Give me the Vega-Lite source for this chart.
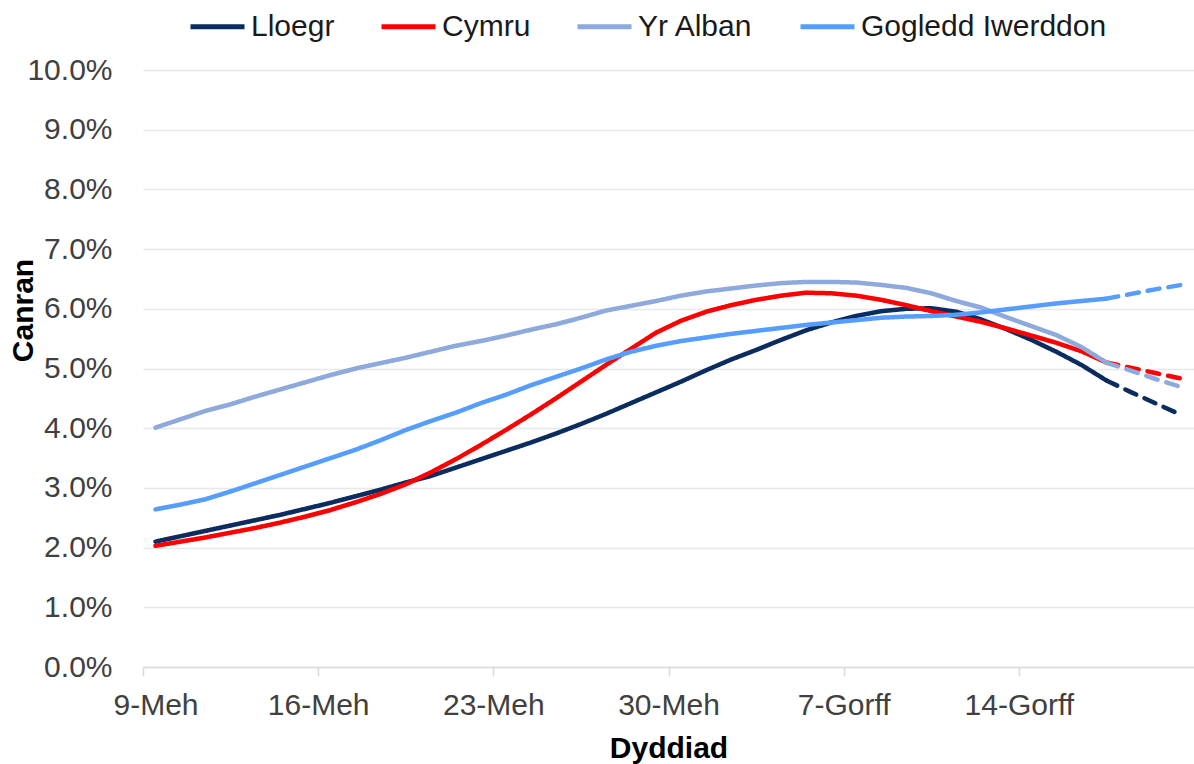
{
  "$schema": "https://vega.github.io/schema/vega-lite/v6.json",
  "width": 1051,
  "height": 597,
  "autosize": {"type": "none"},
  "padding": {"left": 143, "top": 70, "right": 0, "bottom": 97},
  "background": "white",
  "config": {"font": "Liberation Sans", "view": {"stroke": null}},
  "datasets": {
    "series": [
      {"date": "2022-06-09T12:00Z", "region": "Lloegr", "pct": 2.10, "type": "Actual"},
      {"date": "2022-06-10T12:00Z", "region": "Lloegr", "pct": 2.19, "type": "Actual"},
      {"date": "2022-06-11T12:00Z", "region": "Lloegr", "pct": 2.28, "type": "Actual"},
      {"date": "2022-06-12T12:00Z", "region": "Lloegr", "pct": 2.37, "type": "Actual"},
      {"date": "2022-06-13T12:00Z", "region": "Lloegr", "pct": 2.46, "type": "Actual"},
      {"date": "2022-06-14T12:00Z", "region": "Lloegr", "pct": 2.55, "type": "Actual"},
      {"date": "2022-06-15T12:00Z", "region": "Lloegr", "pct": 2.65, "type": "Actual"},
      {"date": "2022-06-16T12:00Z", "region": "Lloegr", "pct": 2.75, "type": "Actual"},
      {"date": "2022-06-17T12:00Z", "region": "Lloegr", "pct": 2.86, "type": "Actual"},
      {"date": "2022-06-18T12:00Z", "region": "Lloegr", "pct": 2.97, "type": "Actual"},
      {"date": "2022-06-19T12:00Z", "region": "Lloegr", "pct": 3.09, "type": "Actual"},
      {"date": "2022-06-20T12:00Z", "region": "Lloegr", "pct": 3.20, "type": "Actual"},
      {"date": "2022-06-21T12:00Z", "region": "Lloegr", "pct": 3.34, "type": "Actual"},
      {"date": "2022-06-22T12:00Z", "region": "Lloegr", "pct": 3.48, "type": "Actual"},
      {"date": "2022-06-23T12:00Z", "region": "Lloegr", "pct": 3.62, "type": "Actual"},
      {"date": "2022-06-24T12:00Z", "region": "Lloegr", "pct": 3.76, "type": "Actual"},
      {"date": "2022-06-25T12:00Z", "region": "Lloegr", "pct": 3.91, "type": "Actual"},
      {"date": "2022-06-26T12:00Z", "region": "Lloegr", "pct": 4.07, "type": "Actual"},
      {"date": "2022-06-27T12:00Z", "region": "Lloegr", "pct": 4.24, "type": "Actual"},
      {"date": "2022-06-28T12:00Z", "region": "Lloegr", "pct": 4.42, "type": "Actual"},
      {"date": "2022-06-29T12:00Z", "region": "Lloegr", "pct": 4.60, "type": "Actual"},
      {"date": "2022-06-30T12:00Z", "region": "Lloegr", "pct": 4.78, "type": "Actual"},
      {"date": "2022-07-01T12:00Z", "region": "Lloegr", "pct": 4.97, "type": "Actual"},
      {"date": "2022-07-02T12:00Z", "region": "Lloegr", "pct": 5.15, "type": "Actual"},
      {"date": "2022-07-03T12:00Z", "region": "Lloegr", "pct": 5.31, "type": "Actual"},
      {"date": "2022-07-04T12:00Z", "region": "Lloegr", "pct": 5.48, "type": "Actual"},
      {"date": "2022-07-05T12:00Z", "region": "Lloegr", "pct": 5.64, "type": "Actual"},
      {"date": "2022-07-06T12:00Z", "region": "Lloegr", "pct": 5.77, "type": "Actual"},
      {"date": "2022-07-07T12:00Z", "region": "Lloegr", "pct": 5.88, "type": "Actual"},
      {"date": "2022-07-08T12:00Z", "region": "Lloegr", "pct": 5.96, "type": "Actual"},
      {"date": "2022-07-09T12:00Z", "region": "Lloegr", "pct": 6.00, "type": "Actual"},
      {"date": "2022-07-10T12:00Z", "region": "Lloegr", "pct": 6.01, "type": "Actual"},
      {"date": "2022-07-11T12:00Z", "region": "Lloegr", "pct": 5.95, "type": "Actual"},
      {"date": "2022-07-12T12:00Z", "region": "Lloegr", "pct": 5.82, "type": "Actual"},
      {"date": "2022-07-13T12:00Z", "region": "Lloegr", "pct": 5.66, "type": "Actual"},
      {"date": "2022-07-14T12:00Z", "region": "Lloegr", "pct": 5.48, "type": "Actual"},
      {"date": "2022-07-15T12:00Z", "region": "Lloegr", "pct": 5.28, "type": "Actual"},
      {"date": "2022-07-16T12:00Z", "region": "Lloegr", "pct": 5.06, "type": "Actual"},
      {"date": "2022-07-17T12:00Z", "region": "Lloegr", "pct": 4.80, "type": "Actual"},
      {"date": "2022-07-17T12:00Z", "region": "Lloegr", "pct": 4.80, "type": "Projected"},
      {"date": "2022-07-18T12:00Z", "region": "Lloegr", "pct": 4.60, "type": "Projected"},
      {"date": "2022-07-19T12:00Z", "region": "Lloegr", "pct": 4.41, "type": "Projected"},
      {"date": "2022-07-20T12:00Z", "region": "Lloegr", "pct": 4.22, "type": "Projected"},

      {"date": "2022-06-09T12:00Z", "region": "Cymru", "pct": 2.03, "type": "Actual"},
      {"date": "2022-06-10T12:00Z", "region": "Cymru", "pct": 2.10, "type": "Actual"},
      {"date": "2022-06-11T12:00Z", "region": "Cymru", "pct": 2.17, "type": "Actual"},
      {"date": "2022-06-12T12:00Z", "region": "Cymru", "pct": 2.25, "type": "Actual"},
      {"date": "2022-06-13T12:00Z", "region": "Cymru", "pct": 2.33, "type": "Actual"},
      {"date": "2022-06-14T12:00Z", "region": "Cymru", "pct": 2.42, "type": "Actual"},
      {"date": "2022-06-15T12:00Z", "region": "Cymru", "pct": 2.52, "type": "Actual"},
      {"date": "2022-06-16T12:00Z", "region": "Cymru", "pct": 2.63, "type": "Actual"},
      {"date": "2022-06-17T12:00Z", "region": "Cymru", "pct": 2.76, "type": "Actual"},
      {"date": "2022-06-18T12:00Z", "region": "Cymru", "pct": 2.90, "type": "Actual"},
      {"date": "2022-06-19T12:00Z", "region": "Cymru", "pct": 3.06, "type": "Actual"},
      {"date": "2022-06-20T12:00Z", "region": "Cymru", "pct": 3.26, "type": "Actual"},
      {"date": "2022-06-21T12:00Z", "region": "Cymru", "pct": 3.48, "type": "Actual"},
      {"date": "2022-06-22T12:00Z", "region": "Cymru", "pct": 3.72, "type": "Actual"},
      {"date": "2022-06-23T12:00Z", "region": "Cymru", "pct": 3.97, "type": "Actual"},
      {"date": "2022-06-24T12:00Z", "region": "Cymru", "pct": 4.23, "type": "Actual"},
      {"date": "2022-06-25T12:00Z", "region": "Cymru", "pct": 4.50, "type": "Actual"},
      {"date": "2022-06-26T12:00Z", "region": "Cymru", "pct": 4.78, "type": "Actual"},
      {"date": "2022-06-27T12:00Z", "region": "Cymru", "pct": 5.06, "type": "Actual"},
      {"date": "2022-06-28T12:00Z", "region": "Cymru", "pct": 5.33, "type": "Actual"},
      {"date": "2022-06-29T12:00Z", "region": "Cymru", "pct": 5.60, "type": "Actual"},
      {"date": "2022-06-30T12:00Z", "region": "Cymru", "pct": 5.80, "type": "Actual"},
      {"date": "2022-07-01T12:00Z", "region": "Cymru", "pct": 5.95, "type": "Actual"},
      {"date": "2022-07-02T12:00Z", "region": "Cymru", "pct": 6.06, "type": "Actual"},
      {"date": "2022-07-03T12:00Z", "region": "Cymru", "pct": 6.15, "type": "Actual"},
      {"date": "2022-07-04T12:00Z", "region": "Cymru", "pct": 6.22, "type": "Actual"},
      {"date": "2022-07-05T12:00Z", "region": "Cymru", "pct": 6.27, "type": "Actual"},
      {"date": "2022-07-06T12:00Z", "region": "Cymru", "pct": 6.26, "type": "Actual"},
      {"date": "2022-07-07T12:00Z", "region": "Cymru", "pct": 6.22, "type": "Actual"},
      {"date": "2022-07-08T12:00Z", "region": "Cymru", "pct": 6.15, "type": "Actual"},
      {"date": "2022-07-09T12:00Z", "region": "Cymru", "pct": 6.06, "type": "Actual"},
      {"date": "2022-07-10T12:00Z", "region": "Cymru", "pct": 5.96, "type": "Actual"},
      {"date": "2022-07-11T12:00Z", "region": "Cymru", "pct": 5.87, "type": "Actual"},
      {"date": "2022-07-12T12:00Z", "region": "Cymru", "pct": 5.78, "type": "Actual"},
      {"date": "2022-07-13T12:00Z", "region": "Cymru", "pct": 5.67, "type": "Actual"},
      {"date": "2022-07-14T12:00Z", "region": "Cymru", "pct": 5.55, "type": "Actual"},
      {"date": "2022-07-15T12:00Z", "region": "Cymru", "pct": 5.43, "type": "Actual"},
      {"date": "2022-07-16T12:00Z", "region": "Cymru", "pct": 5.29, "type": "Actual"},
      {"date": "2022-07-17T12:00Z", "region": "Cymru", "pct": 5.10, "type": "Actual"},
      {"date": "2022-07-17T12:00Z", "region": "Cymru", "pct": 5.10, "type": "Projected"},
      {"date": "2022-07-18T12:00Z", "region": "Cymru", "pct": 5.01, "type": "Projected"},
      {"date": "2022-07-19T12:00Z", "region": "Cymru", "pct": 4.92, "type": "Projected"},
      {"date": "2022-07-20T12:00Z", "region": "Cymru", "pct": 4.83, "type": "Projected"},

      {"date": "2022-06-09T12:00Z", "region": "Yr Alban", "pct": 4.01, "type": "Actual"},
      {"date": "2022-06-10T12:00Z", "region": "Yr Alban", "pct": 4.15, "type": "Actual"},
      {"date": "2022-06-11T12:00Z", "region": "Yr Alban", "pct": 4.29, "type": "Actual"},
      {"date": "2022-06-12T12:00Z", "region": "Yr Alban", "pct": 4.40, "type": "Actual"},
      {"date": "2022-06-13T12:00Z", "region": "Yr Alban", "pct": 4.53, "type": "Actual"},
      {"date": "2022-06-14T12:00Z", "region": "Yr Alban", "pct": 4.65, "type": "Actual"},
      {"date": "2022-06-15T12:00Z", "region": "Yr Alban", "pct": 4.77, "type": "Actual"},
      {"date": "2022-06-16T12:00Z", "region": "Yr Alban", "pct": 4.89, "type": "Actual"},
      {"date": "2022-06-17T12:00Z", "region": "Yr Alban", "pct": 5.00, "type": "Actual"},
      {"date": "2022-06-18T12:00Z", "region": "Yr Alban", "pct": 5.09, "type": "Actual"},
      {"date": "2022-06-19T12:00Z", "region": "Yr Alban", "pct": 5.18, "type": "Actual"},
      {"date": "2022-06-20T12:00Z", "region": "Yr Alban", "pct": 5.28, "type": "Actual"},
      {"date": "2022-06-21T12:00Z", "region": "Yr Alban", "pct": 5.38, "type": "Actual"},
      {"date": "2022-06-22T12:00Z", "region": "Yr Alban", "pct": 5.46, "type": "Actual"},
      {"date": "2022-06-23T12:00Z", "region": "Yr Alban", "pct": 5.55, "type": "Actual"},
      {"date": "2022-06-24T12:00Z", "region": "Yr Alban", "pct": 5.65, "type": "Actual"},
      {"date": "2022-06-25T12:00Z", "region": "Yr Alban", "pct": 5.74, "type": "Actual"},
      {"date": "2022-06-26T12:00Z", "region": "Yr Alban", "pct": 5.85, "type": "Actual"},
      {"date": "2022-06-27T12:00Z", "region": "Yr Alban", "pct": 5.97, "type": "Actual"},
      {"date": "2022-06-28T12:00Z", "region": "Yr Alban", "pct": 6.05, "type": "Actual"},
      {"date": "2022-06-29T12:00Z", "region": "Yr Alban", "pct": 6.13, "type": "Actual"},
      {"date": "2022-06-30T12:00Z", "region": "Yr Alban", "pct": 6.22, "type": "Actual"},
      {"date": "2022-07-01T12:00Z", "region": "Yr Alban", "pct": 6.29, "type": "Actual"},
      {"date": "2022-07-02T12:00Z", "region": "Yr Alban", "pct": 6.34, "type": "Actual"},
      {"date": "2022-07-03T12:00Z", "region": "Yr Alban", "pct": 6.39, "type": "Actual"},
      {"date": "2022-07-04T12:00Z", "region": "Yr Alban", "pct": 6.43, "type": "Actual"},
      {"date": "2022-07-05T12:00Z", "region": "Yr Alban", "pct": 6.45, "type": "Actual"},
      {"date": "2022-07-06T12:00Z", "region": "Yr Alban", "pct": 6.45, "type": "Actual"},
      {"date": "2022-07-07T12:00Z", "region": "Yr Alban", "pct": 6.44, "type": "Actual"},
      {"date": "2022-07-08T12:00Z", "region": "Yr Alban", "pct": 6.40, "type": "Actual"},
      {"date": "2022-07-09T12:00Z", "region": "Yr Alban", "pct": 6.35, "type": "Actual"},
      {"date": "2022-07-10T12:00Z", "region": "Yr Alban", "pct": 6.26, "type": "Actual"},
      {"date": "2022-07-11T12:00Z", "region": "Yr Alban", "pct": 6.13, "type": "Actual"},
      {"date": "2022-07-12T12:00Z", "region": "Yr Alban", "pct": 6.02, "type": "Actual"},
      {"date": "2022-07-13T12:00Z", "region": "Yr Alban", "pct": 5.86, "type": "Actual"},
      {"date": "2022-07-14T12:00Z", "region": "Yr Alban", "pct": 5.71, "type": "Actual"},
      {"date": "2022-07-15T12:00Z", "region": "Yr Alban", "pct": 5.56, "type": "Actual"},
      {"date": "2022-07-16T12:00Z", "region": "Yr Alban", "pct": 5.36, "type": "Actual"},
      {"date": "2022-07-17T12:00Z", "region": "Yr Alban", "pct": 5.10, "type": "Actual"},
      {"date": "2022-07-17T12:00Z", "region": "Yr Alban", "pct": 5.10, "type": "Projected"},
      {"date": "2022-07-18T12:00Z", "region": "Yr Alban", "pct": 4.96, "type": "Projected"},
      {"date": "2022-07-19T12:00Z", "region": "Yr Alban", "pct": 4.82, "type": "Projected"},
      {"date": "2022-07-20T12:00Z", "region": "Yr Alban", "pct": 4.69, "type": "Projected"},

      {"date": "2022-06-09T12:00Z", "region": "Gogledd Iwerddon", "pct": 2.64, "type": "Actual"},
      {"date": "2022-06-10T12:00Z", "region": "Gogledd Iwerddon", "pct": 2.72, "type": "Actual"},
      {"date": "2022-06-11T12:00Z", "region": "Gogledd Iwerddon", "pct": 2.81, "type": "Actual"},
      {"date": "2022-06-12T12:00Z", "region": "Gogledd Iwerddon", "pct": 2.94, "type": "Actual"},
      {"date": "2022-06-13T12:00Z", "region": "Gogledd Iwerddon", "pct": 3.08, "type": "Actual"},
      {"date": "2022-06-14T12:00Z", "region": "Gogledd Iwerddon", "pct": 3.22, "type": "Actual"},
      {"date": "2022-06-15T12:00Z", "region": "Gogledd Iwerddon", "pct": 3.36, "type": "Actual"},
      {"date": "2022-06-16T12:00Z", "region": "Gogledd Iwerddon", "pct": 3.50, "type": "Actual"},
      {"date": "2022-06-17T12:00Z", "region": "Gogledd Iwerddon", "pct": 3.64, "type": "Actual"},
      {"date": "2022-06-18T12:00Z", "region": "Gogledd Iwerddon", "pct": 3.80, "type": "Actual"},
      {"date": "2022-06-19T12:00Z", "region": "Gogledd Iwerddon", "pct": 3.97, "type": "Actual"},
      {"date": "2022-06-20T12:00Z", "region": "Gogledd Iwerddon", "pct": 4.12, "type": "Actual"},
      {"date": "2022-06-21T12:00Z", "region": "Gogledd Iwerddon", "pct": 4.26, "type": "Actual"},
      {"date": "2022-06-22T12:00Z", "region": "Gogledd Iwerddon", "pct": 4.42, "type": "Actual"},
      {"date": "2022-06-23T12:00Z", "region": "Gogledd Iwerddon", "pct": 4.56, "type": "Actual"},
      {"date": "2022-06-24T12:00Z", "region": "Gogledd Iwerddon", "pct": 4.72, "type": "Actual"},
      {"date": "2022-06-25T12:00Z", "region": "Gogledd Iwerddon", "pct": 4.86, "type": "Actual"},
      {"date": "2022-06-26T12:00Z", "region": "Gogledd Iwerddon", "pct": 5.00, "type": "Actual"},
      {"date": "2022-06-27T12:00Z", "region": "Gogledd Iwerddon", "pct": 5.15, "type": "Actual"},
      {"date": "2022-06-28T12:00Z", "region": "Gogledd Iwerddon", "pct": 5.28, "type": "Actual"},
      {"date": "2022-06-29T12:00Z", "region": "Gogledd Iwerddon", "pct": 5.38, "type": "Actual"},
      {"date": "2022-06-30T12:00Z", "region": "Gogledd Iwerddon", "pct": 5.46, "type": "Actual"},
      {"date": "2022-07-01T12:00Z", "region": "Gogledd Iwerddon", "pct": 5.52, "type": "Actual"},
      {"date": "2022-07-02T12:00Z", "region": "Gogledd Iwerddon", "pct": 5.58, "type": "Actual"},
      {"date": "2022-07-03T12:00Z", "region": "Gogledd Iwerddon", "pct": 5.63, "type": "Actual"},
      {"date": "2022-07-04T12:00Z", "region": "Gogledd Iwerddon", "pct": 5.68, "type": "Actual"},
      {"date": "2022-07-05T12:00Z", "region": "Gogledd Iwerddon", "pct": 5.73, "type": "Actual"},
      {"date": "2022-07-06T12:00Z", "region": "Gogledd Iwerddon", "pct": 5.77, "type": "Actual"},
      {"date": "2022-07-07T12:00Z", "region": "Gogledd Iwerddon", "pct": 5.81, "type": "Actual"},
      {"date": "2022-07-08T12:00Z", "region": "Gogledd Iwerddon", "pct": 5.85, "type": "Actual"},
      {"date": "2022-07-09T12:00Z", "region": "Gogledd Iwerddon", "pct": 5.87, "type": "Actual"},
      {"date": "2022-07-10T12:00Z", "region": "Gogledd Iwerddon", "pct": 5.88, "type": "Actual"},
      {"date": "2022-07-11T12:00Z", "region": "Gogledd Iwerddon", "pct": 5.90, "type": "Actual"},
      {"date": "2022-07-12T12:00Z", "region": "Gogledd Iwerddon", "pct": 5.94, "type": "Actual"},
      {"date": "2022-07-13T12:00Z", "region": "Gogledd Iwerddon", "pct": 5.99, "type": "Actual"},
      {"date": "2022-07-14T12:00Z", "region": "Gogledd Iwerddon", "pct": 6.04, "type": "Actual"},
      {"date": "2022-07-15T12:00Z", "region": "Gogledd Iwerddon", "pct": 6.09, "type": "Actual"},
      {"date": "2022-07-16T12:00Z", "region": "Gogledd Iwerddon", "pct": 6.13, "type": "Actual"},
      {"date": "2022-07-17T12:00Z", "region": "Gogledd Iwerddon", "pct": 6.17, "type": "Actual"},
      {"date": "2022-07-17T12:00Z", "region": "Gogledd Iwerddon", "pct": 6.17, "type": "Projected"},
      {"date": "2022-07-18T12:00Z", "region": "Gogledd Iwerddon", "pct": 6.25, "type": "Projected"},
      {"date": "2022-07-19T12:00Z", "region": "Gogledd Iwerddon", "pct": 6.33, "type": "Projected"},
      {"date": "2022-07-20T12:00Z", "region": "Gogledd Iwerddon", "pct": 6.40, "type": "Projected"}
    ]
  },
  "data": {"name": "series"},
  "mark": {"type": "line", "strokeWidth": 4.5, "strokeCap": "round", "strokeJoin": "round"},
  "encoding": {
    "x": {
      "field": "date",
      "type": "temporal",
      "scale": {
        "type": "utc",
        "domain": [
          {"year": 2022, "month": 6, "date": 9, "utc": true},
          {"year": 2022, "month": 7, "date": 21, "utc": true}
        ]
      },
      "axis": {
        "values": [
          {"year": 2022, "month": 6, "date": 9, "utc": true},
          {"year": 2022, "month": 6, "date": 16, "utc": true},
          {"year": 2022, "month": 6, "date": 23, "utc": true},
          {"year": 2022, "month": 6, "date": 30, "utc": true},
          {"year": 2022, "month": 7, "date": 7, "utc": true},
          {"year": 2022, "month": 7, "date": 14, "utc": true}
        ],
        "labelExpr": "utcdate(datum.value) + '-' + (utcmonth(datum.value) == 5 ? 'Meh' : 'Gorff')",
        "title": "Dyddiad",
        "titleFontSize": 30,
        "titleFontWeight": "bold",
        "titleColor": "#000000",
        "titleY": 81,
        "titleBaseline": "middle",
        "grid": false,
        "domainColor": "#D9D9D9",
        "domainWidth": 1.5,
        "tickColor": "#D9D9D9",
        "tickWidth": 1.5,
        "tickSize": 9,
        "labelFontSize": 30,
        "labelColor": "#404040",
        "labelBaseline": "middle",
        "labelPadding": 29,
        "labelFlush": 2,
        "labelFlushOffset": 30,
        "labelOverlap": false
      }
    },
    "y": {
      "field": "pct",
      "type": "quantitative",
      "scale": {"domain": [0, 10], "nice": false},
      "axis": {
        "values": [0, 1, 2, 3, 4, 5, 6, 7, 8, 9, 10],
        "labelExpr": "format(datum.value, '.1f') + '%'",
        "title": "Canran",
        "titleFontSize": 30,
        "titleFontWeight": "bold",
        "titleColor": "#000000",
        "titleAngle": -90,
        "titleX": -120,
        "titleY": 240,
        "titleAlign": "center",
        "titleBaseline": "middle",
        "domain": false,
        "ticks": false,
        "grid": true,
        "gridColor": "#E8E8E8",
        "gridWidth": 1.5,
        "labelFontSize": 30,
        "labelColor": "#404040",
        "labelPadding": 31
      }
    },
    "color": {
      "field": "region",
      "type": "nominal",
      "scale": {
        "domain": ["Lloegr", "Cymru", "Yr Alban", "Gogledd Iwerddon"],
        "range": ["#0B2C5E", "#FF0000", "#8EA9DB", "#559DFF"]
      },
      "legend": {
        "orient": "none",
        "legendX": 45,
        "legendY": -73,
        "direction": "horizontal",
        "title": null,
        "symbolType": "stroke",
        "symbolSize": 2916,
        "symbolStrokeWidth": 5,
        "labelFontSize": 30,
        "labelColor": "#1A1A1A",
        "labelOffset": 4,
        "columnPadding": 36,
        "labelLimit": 400
      }
    },
    "strokeDash": {
      "field": "type",
      "type": "nominal",
      "scale": {"domain": ["Actual", "Projected"], "range": [[1, 0], [12, 9]]},
      "legend": null
    }
  }
}
